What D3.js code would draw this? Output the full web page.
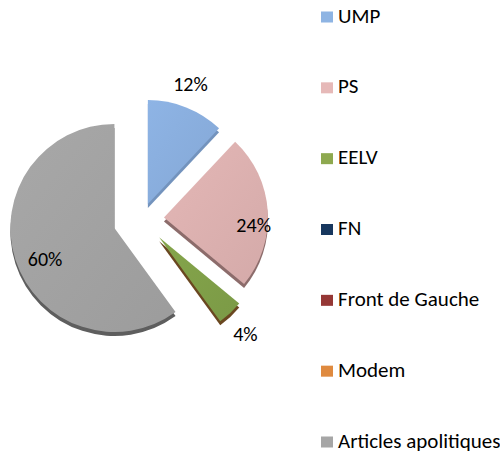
<!DOCTYPE html>
<html>
<head>
<meta charset="utf-8">
<script src="https://cdn.jsdelivr.net/npm/d3@7"></script>
<style>
  body { margin: 0; background: #fff; }
  svg text { font-family: Carlito, Lato, sans-serif; fill: #000; }
</style>
</head>
<body>
<svg id="chart" width="500" height="459"></svg>
<script>
// data
const categories = ["UMP", "PS", "EELV", "FN", "Front de Gauche", "Modem", "Articles apolitiques"];
const shares = [12, 24, 4, 0, 0, 0, 60];
const legendColors = ["#8EB4E3", "#E6B9B8", "#8EA94F", "#17375E", "#953735", "#DF8A3F", "#A6A6A6"];

// styles per slice
const faceColors = {"UMP": "#88ACDB", "PS": "#DAAFAE", "EELV": "#7F9E48", "Articles apolitiques": "#A1A1A1"};
const sideColors = {"UMP": "#7393BD", "PS": "#8C6C6B", "EELV": "#6A4720", "Articles apolitiques": "#5E5E5E"};
const explode = {"UMP": 16, "PS": 22, "EELV": 25, "Articles apolitiques": 29};
// label placement: distance from slice tip, and turn (degrees) from the slice middle
const labelRadius = {"UMP": 127, "PS": 90, "EELV": 130, "Articles apolitiques": 76};
const labelTurn = {"UMP": -2, "PS": 8.4, "EELV": 1.6, "Articles apolitiques": -6.2};

const svg = d3.select("#chart");
const cx = 142, cy = 219, radius = 104, depth = 4;

const pie = d3.pie().sort(null).value(d => d.value);
const arc = d3.arc().innerRadius(0).outerRadius(radius);

const rows = categories.map((c, i) => ({name: c, value: shares[i], colour: legendColors[i]}));
const arcs = pie(rows).filter(d => d.data.value > 0);

const defs = svg.append("defs");
arcs.forEach((d, i) => {
	let face = d3.color(faceColors[d.data.name]);
	let g = defs.append("linearGradient").attr("id", "grad" + i)
		.attr("x1", 0).attr("y1", 0).attr("x2", 1).attr("y2", 1);
	g.append("stop").attr("offset", "0%").attr("stop-color", face.brighter(0.12));
	g.append("stop").attr("offset", "100%").attr("stop-color", face.darker(0.08));
});

function offset(d, k) {
	let a = (d.startAngle + d.endAngle) / 2;
	return [cx + Math.sin(a) * k, cy - Math.cos(a) * k];
}

let slices = svg.append("g").selectAll(".slice")
	.data(arcs)
	.enter()
	.append("g")
	.attr("class", "slice")
	.attr("transform", d => {
		let p = offset(d, explode[d.data.name]);
		return "translate(" + p[0] + "," + p[1] + ")";
	});

// thickness of the 3D pie
slices.append("path")
	.attr("d", arc)
	.attr("transform", "translate(0," + depth + ")")
	.attr("fill", d => sideColors[d.data.name]);

slices.append("path")
	.attr("d", arc)
	.attr("fill", (d, i) => "url(#grad" + i + ")");

slices.append("text")
	.attr("transform", d => {
		let a = (d.startAngle + d.endAngle) / 2 + labelTurn[d.data.name] * Math.PI / 180;
		let r = labelRadius[d.data.name];
		return "translate(" + (Math.sin(a) * r) + "," + (-Math.cos(a) * r) + ")";
	})
	.attr("text-anchor", "middle")
	.attr("dy", "0.35em")
	.style("font-size", "20px")
	.text(d => d.data.value + "%");

// legend
const legendY = d3.scalePoint().domain(categories).range([17, 442]);

let legend = svg.append("g").selectAll(".legendItem")
	.data(rows)
	.enter()
	.append("g")
	.attr("class", "legendItem")
	.attr("transform", d => "translate(321," + legendY(d.name) + ")");

legend.append("rect")
	.attr("x", 0).attr("y", -5.5)
	.attr("width", 12).attr("height", 11)
	.attr("fill", d => d.colour);

legend.append("text")
	.attr("x", 17)
	.attr("y", 5.5)
	.style("font-size", "21px")
	.text(d => d.name);
</script>
</body>
</html>
